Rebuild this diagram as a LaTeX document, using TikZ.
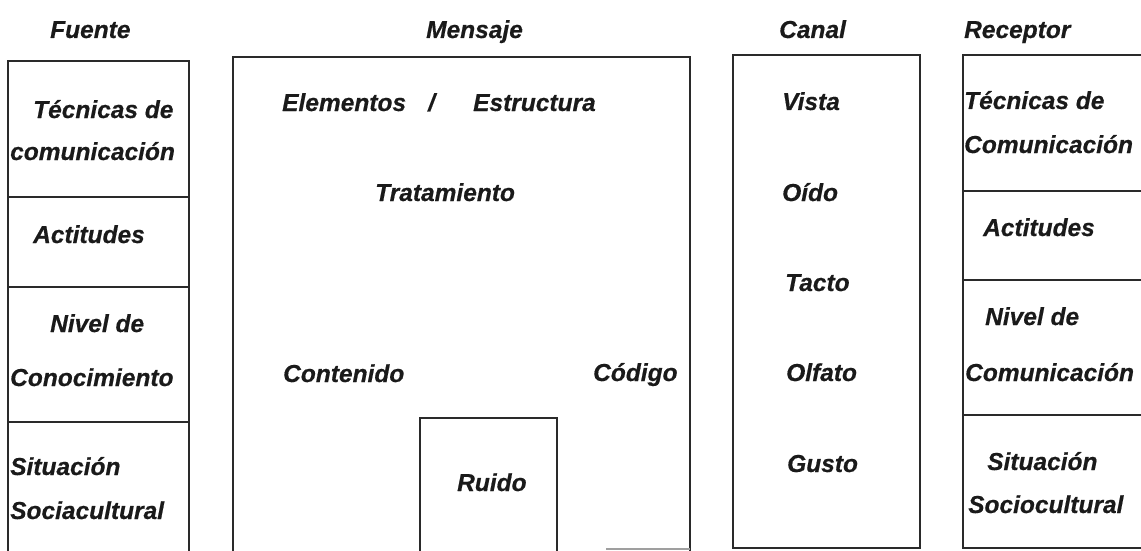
\documentclass[tikz,border=0pt]{standalone}
\usepackage{fontspec}
\setmainfont{Liberation Sans}[BoldItalicFeatures={FakeBold=0.5}]
\definecolor{ink}{HTML}{1A1A1A}
\definecolor{edge}{HTML}{2A2A2A}
\begin{document}
\begin{tikzpicture}[x=1pt,y=-1pt,
  lbl/.style={anchor=base west,inner sep=0pt,font=\fontsize{24.5}{28}\selectfont\bfseries\itshape,text=ink},
  frame/.style={draw=edge,line width=2.2pt},
  thin frame/.style={draw=edge,line width=1.6pt},
  faint frame/.style={draw=edge!45,line width=1.2pt}]
\useasboundingbox[fill=white] (0,0) rectangle (1141,551);

% column headings
\node[lbl] (hFuente)   at (50,38)  {Fuente};
\node[lbl] (hMensaje)  at (426,38) {Mensaje};
\node[lbl] (hCanal)    at (779,38) {Canal};
\node[lbl] (hReceptor) at (964,38) {Receptor};

% Fuente column
\draw[frame] (8,553) -- (8,61) -- (189,61) -- (189,553);
\draw[thin frame] (8,197) -- (189,197);
\draw[frame] (8,287) -- (189,287);
\draw[frame] (8,422) -- (189,422);
\node[lbl] (fTec)  at (33,118)  {Técnicas de};
\node[lbl] (fCom)  at (10,160)  {comunicación};
\node[lbl] (fAct)  at (33,243)  {Actitudes};
\node[lbl] (fNiv)  at (50,332)  {Nivel de};
\node[lbl] (fCon)  at (10,386)  {Conocimiento};
\node[lbl] (fSit)  at (10,475)  {Situación};
\node[lbl] (fSoc)  at (10,519)  {Sociacultural};

% Mensaje column
\draw[frame] (233,553) -- (233,57) -- (690,57) -- (690,553);
\draw[faint frame] (606,549) -- (690,549);
\draw[frame] (420,553) -- (420,418) -- (557,418) -- (557,553);
\node[lbl] (mEle)  at (282,111) {Elementos};
\node[lbl] (mSl)   at (428,111) {/};
\node[lbl] (mEst)  at (473,111) {Estructura};
\node[lbl] (mTra)  at (375,201) {Tratamiento};
\node[lbl] (mCon)  at (283,382) {Contenido};
\node[lbl] (mCod)  at (593,381) {Código};
\node[lbl] (mRui)  at (457,491) {Ruido};

% Canal column
\draw[frame] (733,55) rectangle (920,548);
\node[lbl] (cVis)  at (782,110) {Vista};
\node[lbl] (cOid)  at (782,201) {Oído};
\node[lbl] (cTac)  at (785,291) {Tacto};
\node[lbl] (cOlf)  at (786,381) {Olfato};
\node[lbl] (cGus)  at (787,472) {Gusto};

% Receptor column
\draw[frame] (1143,55) -- (963,55) -- (963,548) -- (1143,548);
\draw[frame] (963,191) -- (1143,191);
\draw[frame] (963,280) -- (1143,280);
\draw[frame] (963,415) -- (1143,415);
\node[lbl] (rTec)  at (964,109) {Técnicas de};
\node[lbl] (rCom)  at (964,153) {Comunicación};
\node[lbl] (rAct)  at (983,236) {Actitudes};
\node[lbl] (rNiv)  at (985,325) {Nivel de};
\node[lbl] (rCom2) at (965,381) {Comunicación};
\node[lbl] (rSit)  at (987,470) {Situación};
\node[lbl] (rSoc)  at (968,513) {Sociocultural};
\end{tikzpicture}
\end{document}
